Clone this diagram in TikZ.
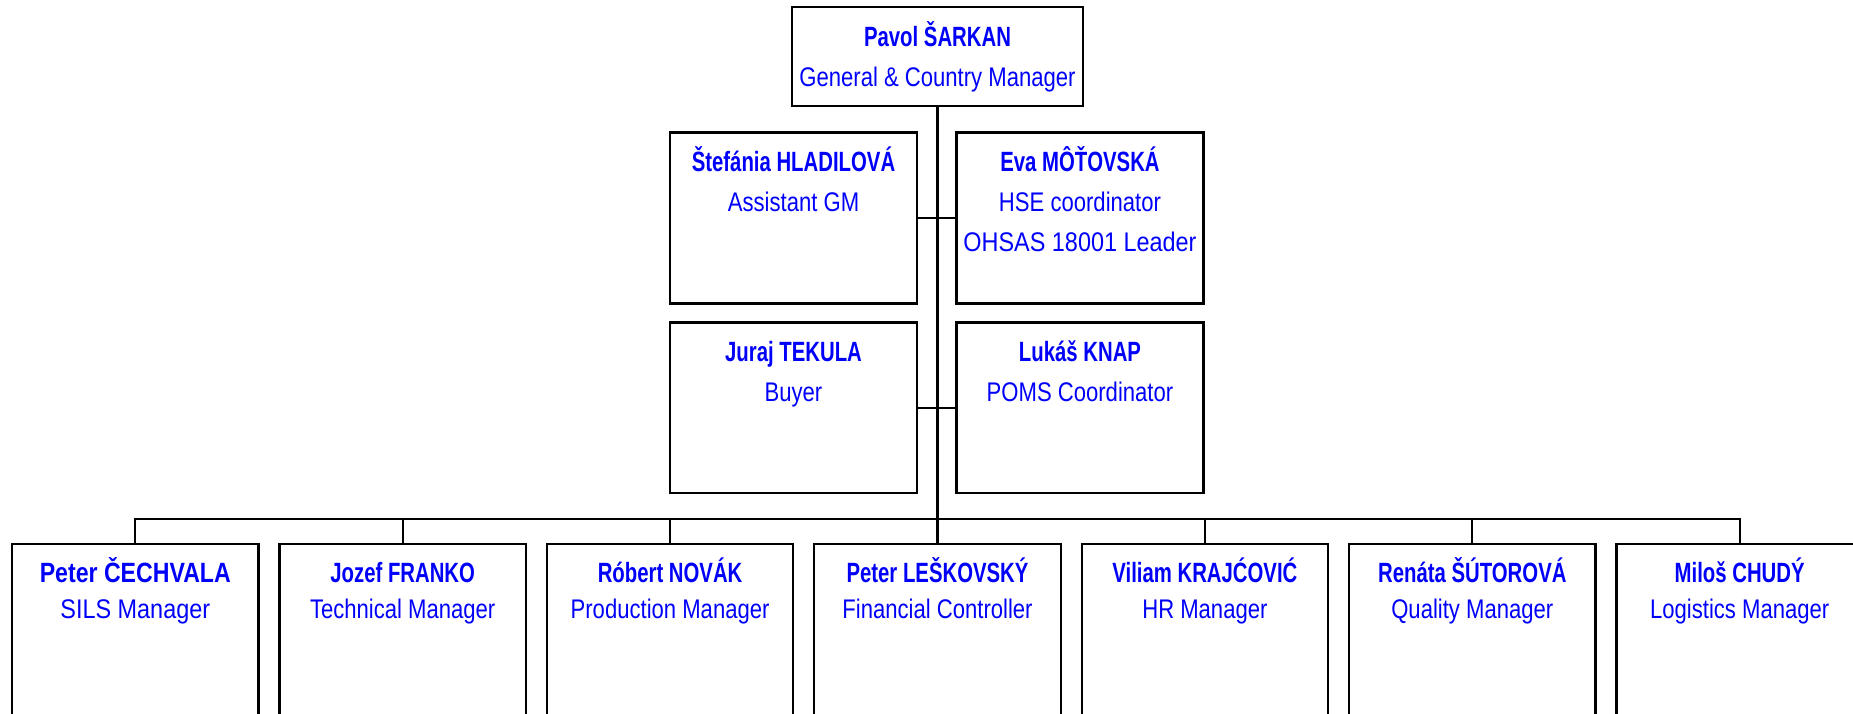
\documentclass[tikz,border=0pt]{standalone}
\usepackage{fontspec}
\newfontfamily\nar{Liberation Sans}[FakeStretch=0.82]
\newfontfamily\narw{Liberation Sans}[FakeStretch=0.87]
\newfontfamily\narb{Liberation Sans}[FakeStretch=0.73]
\newfontfamily\narbw{Liberation Sans}[FakeStretch=0.83]
\definecolor{tblue}{RGB}{0,0,250}
\begin{document}
\begin{tikzpicture}[x=0.75pt,y=-0.75pt,
  box/.style={draw=black, line width=1.7pt, rectangle, inner sep=0pt, fill=white},
  conn/.style={draw=black, line width=1.7pt},
  nm/.style={text=tblue, font=\narb\bfseries\fontsize{20.9}{24}\selectfont, anchor=base, inner sep=0pt},
  nmw/.style={nm, font=\narbw\bfseries\fontsize{20.9}{24}\selectfont},
  tt/.style={text=tblue, font=\nar\fontsize{20.2}{24}\selectfont, anchor=base, inner sep=0pt},
  ttw/.style={tt, font=\narw\fontsize{20.2}{24}\selectfont}]
\useasboundingbox (0,0) rectangle (1853,714);
\clip (0,0) rectangle (1853,714);
% top
\node[box, minimum width=291*0.75pt, minimum height=99*0.75pt] (top) at (937.5,56.5) {};
\node[nm] (topn) at (937.5,46) {Pavol ŠARKAN};
\node[tt] (topt) at (937.5,86) {General \& Country Manager};
% row 2
\node[box, minimum width=247*0.75pt, minimum height=171*0.75pt] (aL) at (793.5,218) {};
\node[nm] (aLn) at (793.5,171.5) {Štefánia HLADILOVÁ};
\node[tt] (aLt) at (793.5,211.5) {Assistant GM};
\node[box, minimum width=247*0.75pt, minimum height=171*0.75pt] (aR) at (1080,218) {};
\node[nm] (aRn) at (1080,171.5) {Eva MÔŤOVSKÁ};
\node[tt] (aRt) at (1080,211.5) {HSE coordinator};
\node[ttw] (aRu) at (1080,251) {OHSAS 18001 Leader};
% row 3
\node[box, minimum width=247*0.75pt, minimum height=170.5*0.75pt] (bL) at (793.5,407.75) {};
\node[nm] (bLn) at (793.5,361.5) {Juraj TEKULA};
\node[tt] (bLt) at (793.5,401.5) {Buyer};
\node[box, minimum width=247*0.75pt, minimum height=170.5*0.75pt] (bR) at (1080,407.75) {};
\node[nm] (bRn) at (1080,361.5) {Lukáš KNAP};
\node[tt] (bRt) at (1080,401.5) {POMS Coordinator};
% bottom row
\foreach \i/\nst/\tst/\nme/\ttl in {1/nmw/ttw/Peter ČECHVALA/SILS Manager,
  2/nm/tt/Jozef FRANKO/Technical Manager,
  3/nm/tt/Róbert NOVÁK/Production Manager,
  4/nm/tt/Peter LEŠKOVSKÝ/Financial Controller,
  5/nm/tt/Viliam KRAJĆOVIĆ/HR Manager,
  6/nm/tt/Renáta ŠÚTOROVÁ/Quality Manager,
  7/nm/tt/Miloš CHUDÝ/Logistics Manager}{
  \pgfmathsetmacro{\cx}{937.5+(\i-4)*267.4}
  \node[box, minimum width=246.5*0.75pt, minimum height=300*0.75pt] (p\i) at (\cx,694) {};
  \node[\nst] (p\i n) at (\cx,582) {\nme};
  \node[\tst] (p\i t) at (\cx,618) {\ttl};
}
% connectors
\coordinate (bus) at (937.5,519);
\draw[conn] (top.south) -- (bus);
\draw[conn] (aL.east) -- (aR.west);
\draw[conn] (bL.east) -- (bR.west);
\draw[conn] (p1.north) |- (bus) -| (p7.north);
\foreach \i in {2,...,6}{
  \draw[conn] (p\i.north) -- (p\i.north |- bus);
}
\end{tikzpicture}
\end{document}
